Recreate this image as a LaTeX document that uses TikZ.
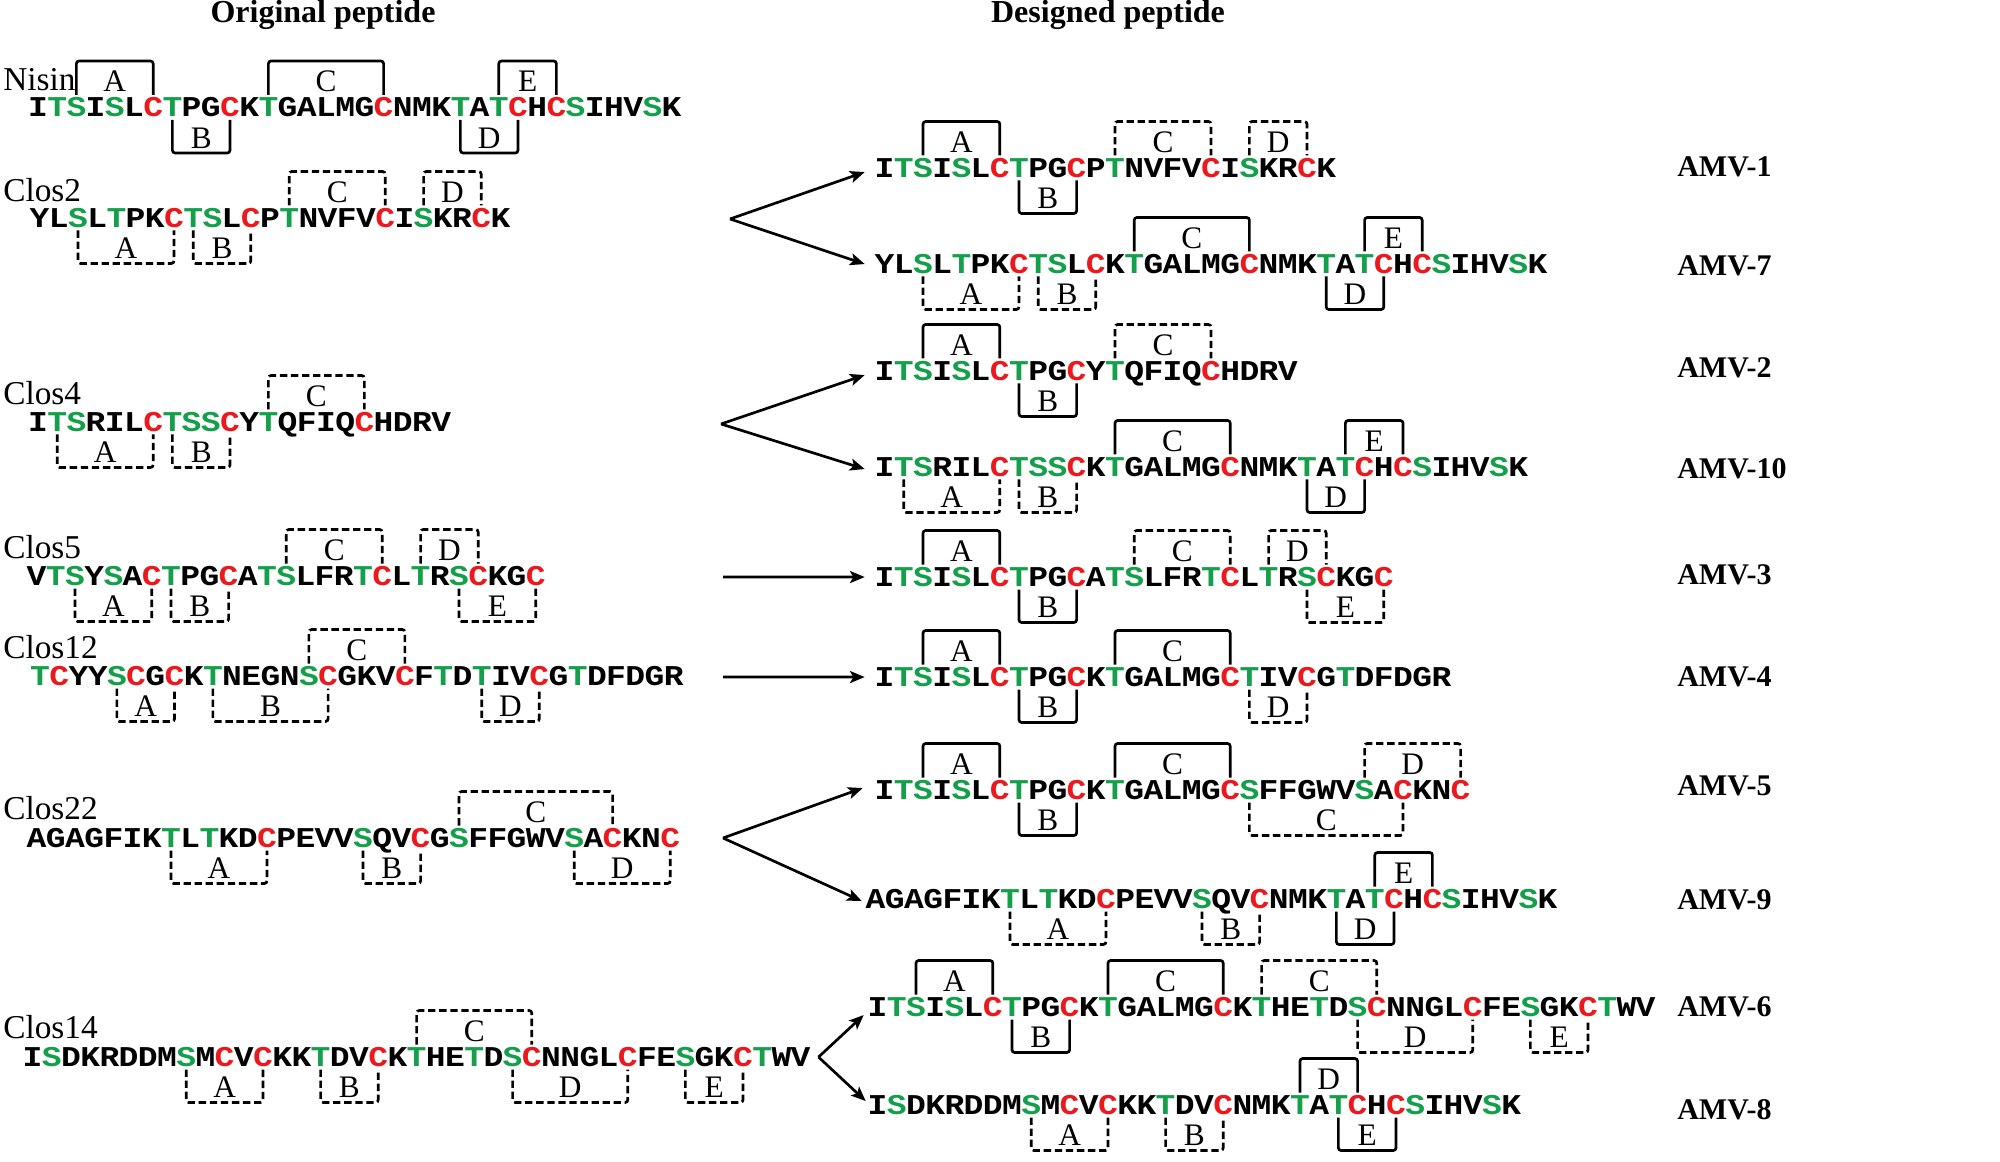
\documentclass[tikz,border=0pt]{standalone}
\usepackage{fontspec}
\setmainfont{Liberation Serif}
\newfontfamily\seqfam[FakeStretch=1.15]{Liberation Mono}
\usetikzlibrary{calc,arrows.meta}
\definecolor{sgreen}{RGB}{20,160,75}
\definecolor{sred}{RGB}{235,25,30}
\newcommand\seqfont{\seqfam\bfseries\fontsize{21.5}{21.5}\selectfont}
\newcommand\namefont{\fontsize{25}{25}\selectfont}
\newcommand\lblfont{\fontsize{23.5}{23.5}\selectfont}
\newcommand\ttlfont{\bfseries\fontsize{24}{24}\selectfont}
\newcommand\amvfont{\bfseries\fontsize{22.5}{22.5}\selectfont}
\def\pitch{19.2}
\newcount\pepi
\newcommand\pep[4]{\def\pepname{#1}\def\pepx{#2}\def\pepy{#3}\pepi=0 \peploop#4\relax}
\def\peploop#1{%
 \ifx#1\relax\else
  \advance\pepi by 1
  \def\pepcol{black}%
  \if T#1\def\pepcol{sgreen}\fi
  \if S#1\def\pepcol{sgreen}\fi
  \if C#1\def\pepcol{sred}\fi
  \node[res,text=\pepcol] (\pepname-\number\pepi) at ({\pepx+(\number\pepi-0.5)*\pitch},{\pepy+9.5}) {#1};
  \expandafter\peploop
 \fi}
\newcommand\btop[5][]{%
 \draw[brk,#1] ($(#2-#3.base)+(0,-22)$) -- ($(#2-#3.base)+(0,-56)$) -- ($(#2-#4.base)+(0,-56)$) -- ($(#2-#4.base)+(0,-22)$);
 \node[blbl] (#2-t#3) at ($(#2-#3.base)!0.5!(#2-#4.base)+(0,-35.5)$) {#5};}
\newcommand\bbot[5][]{%
 \draw[brk,#1] ($(#2-#3.base)+(0,3)$) -- ($(#2-#3.base)+(0,36)$) -- ($(#2-#4.base)+(0,36)$) -- ($(#2-#4.base)+(0,3)$);
 \node[blbl] (#2-b#3) at ($(#2-#3.base)!0.5!(#2-#4.base)+(0,21)$) {#5};}
\tikzset{
 res/.style={inner sep=0pt,outer sep=0pt,anchor=base,font=\seqfont},
 brk/.style={line width=2pt,rounded corners=2pt},
 dsh/.style={dash pattern=on 5.5pt off 2.8pt},
 blbl/.style={inner sep=0pt,font=\lblfont},
 pname/.style={inner sep=0pt,anchor=west,font=\namefont},
 amv/.style={inner sep=0pt,anchor=west,font=\amvfont},
 ttl/.style={inner sep=0pt,font=\ttlfont},
 arr/.style={line width=2pt,-{Stealth[length=11pt,width=9pt,inset=2.5pt]}},
}
\begin{document}
\begin{tikzpicture}[x=0.75pt,y=-0.75pt]
\useasboundingbox (0,0) rectangle (2000,1162);
% titles
\node[ttl] (t1) at (323,15) {Original peptide};
\node[ttl] (t2) at (1108,15) {Designed peptide};
% names
\node[pname] (n0) at (3,80) {Nisin};
\node[pname] (n2) at (3,190) {Clos2};
\node[pname] (n4) at (3,393) {Clos4};
\node[pname] (n5) at (3,547) {Clos5};
\node[pname] (n12) at (3,647) {Clos12};
\node[pname] (n22) at (3,808) {Clos22};
\node[pname] (n14) at (3,1027) {Clos14};
% original peptides
\pep{nisin}{28.4}{107.5}{ITSISLCTPGCKTGALMGCNMKTATCHCSIHVSK}
\btop{nisin}{3}{7}{A}\bbot{nisin}{8}{11}{B}\btop{nisin}{13}{19}{C}\bbot{nisin}{23}{26}{D}\btop{nisin}{25}{28}{E}
\pep{clos2}{30}{218}{YLSLTPKCTSLCPTNVFVCISKRCK}
\bbot[dsh]{clos2}{3}{8}{A}\bbot[dsh]{clos2}{9}{12}{B}\btop[dsh]{clos2}{14}{19}{C}\btop[dsh]{clos2}{21}{24}{D}
\pep{clos4}{28.4}{422}{ITSRILCTSSCYTQFIQCHDRV}
\bbot[dsh]{clos4}{2}{7}{A}\bbot[dsh]{clos4}{8}{11}{B}\btop[dsh]{clos4}{13}{18}{C}
\pep{clos5}{27}{576}{VTSYSACTPGCATSLFRTCLTRSCKGC}
\bbot[dsh]{clos5}{3}{7}{A}\bbot[dsh]{clos5}{8}{11}{B}\btop[dsh]{clos5}{14}{19}{C}\btop[dsh]{clos5}{21}{24}{D}\bbot[dsh]{clos5}{23}{27}{E}
\pep{clos12}{30.5}{676}{TCYYSCGCKTNEGNSCGKVCFTDTIVCGTDFDGR}
\bbot[dsh]{clos12}{5}{8}{A}\bbot[dsh]{clos12}{10}{16}{B}\btop[dsh]{clos12}{15}{20}{C}\bbot[dsh]{clos12}{24}{27}{D}
\pep{clos22}{27}{838}{AGAGFIKTLTKDCPEVVSQVCGSFFGWVSACKNC}
\bbot[dsh]{clos22}{8}{13}{A}\bbot[dsh]{clos22}{18}{21}{B}\btop[dsh]{clos22}{23}{31}{C}\bbot[dsh]{clos22}{29}{34}{D}
\pep{clos14}{23}{1057}{ISDKRDDMSMCVCKKTDVCKTHETDSCNNGLCFESGKCTWV}
\bbot[dsh]{clos14}{9}{13}{A}\bbot[dsh]{clos14}{16}{19}{B}\btop[dsh]{clos14}{21}{27}{C}\bbot[dsh]{clos14}{26}{32}{D}\bbot[dsh]{clos14}{35}{38}{E}
% designed peptides
\pep{amv1}{875}{168}{ITSISLCTPGCPTNVFVCISKRCK}
\btop{amv1}{3}{7}{A}\bbot{amv1}{8}{11}{B}\btop[dsh]{amv1}{13}{18}{C}\btop[dsh]{amv1}{20}{23}{D}
\pep{amv7}{875}{264}{YLSLTPKCTSLCKTGALMGCNMKTATCHCSIHVSK}
\bbot[dsh]{amv7}{3}{8}{A}\bbot[dsh]{amv7}{9}{12}{B}\btop{amv7}{14}{20}{C}\bbot{amv7}{24}{27}{D}\btop{amv7}{26}{29}{E}
\pep{amv2}{875}{371}{ITSISLCTPGCYTQFIQCHDRV}
\btop{amv2}{3}{7}{A}\bbot{amv2}{8}{11}{B}\btop[dsh]{amv2}{13}{18}{C}
\pep{amv10}{875}{467}{ITSRILCTSSCKTGALMGCNMKTATCHCSIHVSK}
\bbot[dsh]{amv10}{2}{7}{A}\bbot[dsh]{amv10}{8}{11}{B}\btop{amv10}{13}{19}{C}\bbot{amv10}{23}{26}{D}\btop{amv10}{25}{28}{E}
\pep{amv3}{875}{577}{ITSISLCTPGCATSLFRTCLTRSCKGC}
\btop{amv3}{3}{7}{A}\bbot{amv3}{8}{11}{B}\btop[dsh]{amv3}{14}{19}{C}\btop[dsh]{amv3}{21}{24}{D}\bbot[dsh]{amv3}{23}{27}{E}
\pep{amv4}{875}{677}{ITSISLCTPGCKTGALMGCTIVCGTDFDGR}
\btop{amv4}{3}{7}{A}\bbot{amv4}{8}{11}{B}\btop{amv4}{13}{19}{C}\bbot[dsh]{amv4}{20}{23}{D}
\pep{amv5}{875}{790}{ITSISLCTPGCKTGALMGCSFFGWVSACKNC}
\btop{amv5}{3}{7}{A}\bbot{amv5}{8}{11}{B}\btop{amv5}{13}{19}{C}\bbot[dsh]{amv5}{20}{28}{C}\btop[dsh]{amv5}{26}{31}{D}
\pep{amv9}{866}{899}{AGAGFIKTLTKDCPEVVSQVCNMKTATCHCSIHVSK}
\bbot[dsh]{amv9}{8}{13}{A}\bbot[dsh]{amv9}{18}{21}{B}\bbot{amv9}{25}{28}{D}\btop{amv9}{27}{30}{E}
\pep{amv6}{868}{1007}{ITSISLCTPGCKTGALMGCKTHETDSCNNGLCFESGKCTWV}
\btop{amv6}{3}{7}{A}\bbot{amv6}{8}{11}{B}\btop{amv6}{13}{19}{C}\btop[dsh]{amv6}{21}{27}{C}\bbot[dsh]{amv6}{26}{32}{D}\bbot[dsh]{amv6}{35}{38}{E}
\pep{amv8}{868}{1105}{ISDKRDDMSMCVCKKTDVCNMKTATCHCSIHVSK}
\bbot[dsh]{amv8}{9}{13}{A}\bbot[dsh]{amv8}{16}{19}{B}\btop{amv8}{23}{26}{D}\bbot{amv8}{25}{28}{E}
% AMV labels
\node[amv] (l1) at (1677,167) {AMV-1};
\node[amv] (l7) at (1677,266) {AMV-7};
\node[amv] (l2) at (1677,368) {AMV-2};
\node[amv] (l10) at (1677,469) {AMV-10};
\node[amv] (l3) at (1677,575) {AMV-3};
\node[amv] (l4) at (1677,677) {AMV-4};
\node[amv] (l5) at (1677,786) {AMV-5};
\node[amv] (l9) at (1677,900) {AMV-9};
\node[amv] (l6) at (1677,1007) {AMV-6};
\node[amv] (l8) at (1677,1110) {AMV-8};
% arrows
\coordinate (v2) at (730,219);
\coordinate (v4) at (721,424);
\coordinate (v5) at (723,577);
\coordinate (v12) at (723,677);
\coordinate (v22) at (723,838);
\coordinate (v14) at ($(clos14-41.east)+(8,0)$);
\draw[arr] (v2) -- ($(amv1-1.west)+(-10,4)$);
\draw[arr] (v2) -- ($(amv7-1.west)+(-10,0)$);
\draw[arr] (v4) -- ($(amv2-1.west)+(-10,4)$);
\draw[arr] (v4) -- ($(amv10-1.west)+(-10,2)$);
\draw[arr] (v5) -- ($(amv3-1.west)+(-10,0)$);
\draw[arr] (v12) -- ($(amv4-1.west)+(-10,0)$);
\draw[arr] (v22) -- ($(amv5-1.west)+(-12,-2)$);
\draw[arr] (v22) -- ($(amv9-1.west)+(-4,2)$);
\draw[arr] (v14) -- ($(amv6-1.west)+(-4,8)$);
\draw[arr] (v14) -- ($(amv8-1.west)+(-2,-4)$);
\end{tikzpicture}
\end{document}
